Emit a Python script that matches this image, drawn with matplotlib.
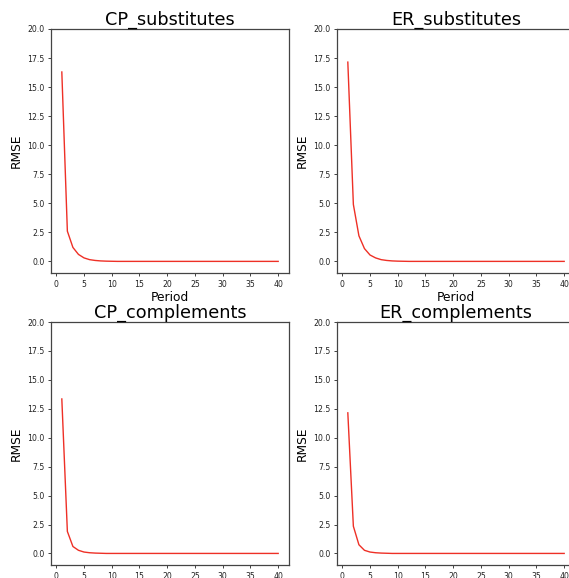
import matplotlib
matplotlib.use("Agg")
import matplotlib.pyplot as plt
import numpy as np

# RMSE per period for each scenario
periods = list(range(1, 41))

cp_substitutes = [16.3, 2.6, 1.2, 0.6, 0.3, 0.15, 0.08, 0.04, 0.02, 0.01] + [0.0] * 30
er_substitutes = [17.15, 4.9, 2.2, 1.1, 0.55, 0.3, 0.15, 0.08, 0.04, 0.02, 0.01] + [0.0] * 29
cp_complements = [13.35, 1.9, 0.6, 0.27, 0.12, 0.06, 0.03, 0.015] + [0.0] * 32
er_complements = [12.15, 2.35, 0.75, 0.27, 0.12, 0.06, 0.03, 0.015] + [0.0] * 32

titles = ["CP_substitutes", "ER_substitutes", "CP_complements", "ER_complements"]
series = [cp_substitutes, er_substitutes, cp_complements, er_complements]
yticks = [0.0, 2.5, 5.0, 7.5, 10.0, 12.5, 15.0, 17.5, 20.0]
xticks = [0, 5, 10, 15, 20, 25, 30, 35, 40]

W, H = 569, 578
fig = plt.figure(figsize=(W / 100, H / 100), dpi=100)

# axes boxes in pixels: left, top, right, bottom
boxes = [
    (51, 29, 289, 273),
    (337, 29, 575, 273),
    (51, 322, 289, 565),
    (337, 322, 575, 565),
]

for i, (title, vals, (l, t, r, b)) in enumerate(zip(titles, series, boxes)):
    ax = fig.add_axes([l / W, 1 - b / H, (r - l) / W, (b - t) / H])
    ax.plot(periods, vals, color="#ee3026", linewidth=1.0)
    ax.set_ylim(-1, 20)
    ax.set_yticks(yticks)
    ax.set_yticklabels([f"{v:.1f}" for v in yticks])
    ax.set_xticks(xticks)
    ax.tick_params(labelsize=5.6, length=2.2, width=0.6, pad=2.5, colors="#222222")
    for s in ax.spines.values():
        s.set_color("#444444")
        s.set_linewidth(0.9)
    ax.set_title(title, fontsize=12.7, pad=2.5)
    ax.set_ylabel("RMSE", fontsize=8.8, labelpad=3)
    if i < 2:
        ax.set_xlabel("Period", fontsize=8.8, labelpad=1.5)

fig.savefig("out.png", dpi=100)
